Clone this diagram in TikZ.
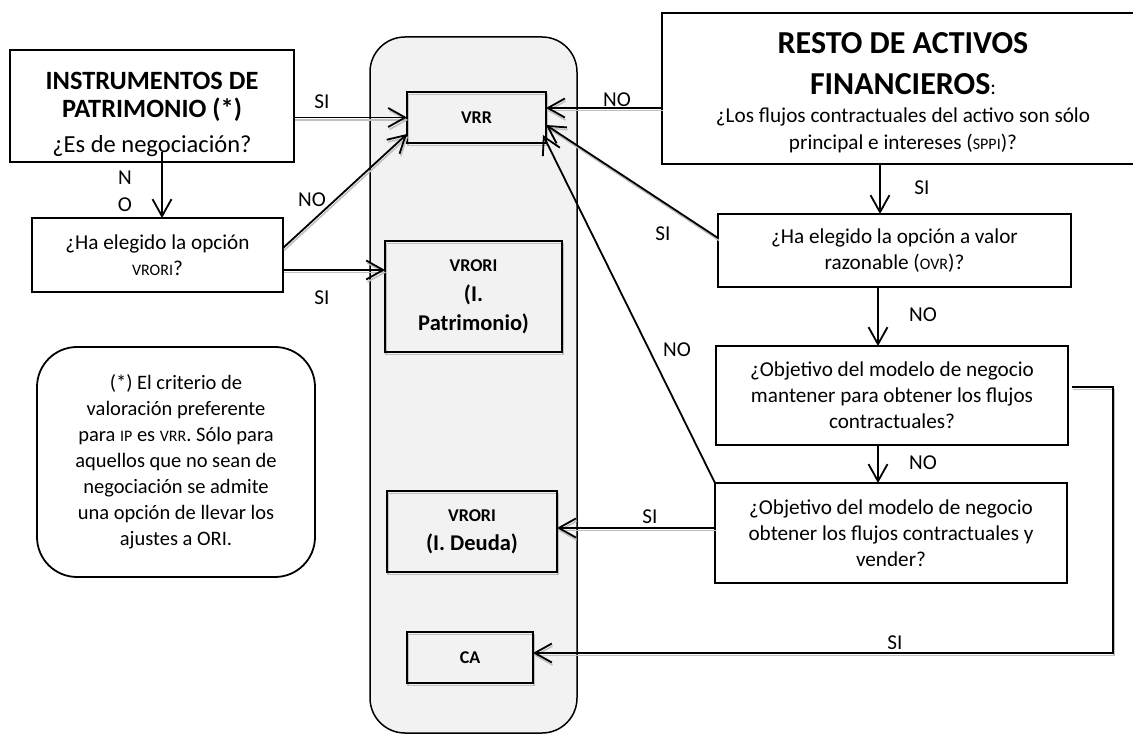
\documentclass[tikz,border=0pt]{standalone}
\usepackage{fontspec}
\setmainfont{Carlito}
\usetikzlibrary{arrows.meta,calc}
\newcommand\smc[1]{{\fontsize{16}{16}\selectfont #1}}
\newcommand\smb[1]{{\fontsize{18}{18}\selectfont #1}}
\newcommand\Fh{\fontsize{26.4}{30}\selectfont\bfseries}
\newcommand\Fq{\fontsize{24.5}{28}\selectfont}
\newcommand\Fr{\fontsize{32}{38}\selectfont\bfseries}
\begin{document}
\begin{tikzpicture}[x=1pt,y=-1pt,
  box/.style={draw, line width=1.8pt, inner sep=0pt, outer sep=0pt, align=center, font=\fontsize{21.2}{26}\selectfont},
  res/.style={box, line width=1.6pt, font=\fontsize{22.5}{29}\selectfont\bfseries},
  arr/.style={line width=1.8pt, -{Straight Barb[length=17pt,width=19pt]}},
  lbl/.style={font=\fontsize{21.2}{24}\selectfont, inner sep=0pt},
  shd/.style={preaction={draw=gray!50, line width=1.5pt, transform canvas={shift={(1pt,-2.5pt)}}}}
]
\useasboundingbox (0,0) rectangle (1133,735);
% column
\node[draw, fill=gray!10, line width=1.5pt, rounded corners=35pt, minimum width=207pt, minimum height=696pt, inner sep=0pt] (col) at (473.5,385) {};
% left boxes
\node[box, minimum width=284pt, minimum height=112pt] (ip) at (152,106) {};
\node[align=center, inner sep=0pt] (iptxt) at (152,114.5)
  {{\Fh INSTRUMENTOS DE}\\[8pt] {\Fh PATRIMONIO (*)}\\[13pt] {\Fq ¿Es de negociación?}};
\node[box, minimum width=251pt, minimum height=74pt] (ho) at (157.5,255)
  {¿Ha elegido la opción\\ \smc{VRORI}?};
% right boxes
\node[box, minimum width=482pt, minimum height=151pt] (resto) at (903,88.5)
  {{\Fr\rule{0pt}{29pt}RESTO DE ACTIVOS}\\[15pt] {\Fr FINANCIEROS}:\\[2pt] ¿Los flujos contractuales del activo son sólo\\[1pt] principal e intereses (\smc{SPPI})?};
\node[box, minimum width=353pt, minimum height=73pt] (ovr) at (894.5,250.5)
  {¿Ha elegido la opción a valor\\ razonable (\smc{OVR})?};
\node[box, minimum width=352pt, minimum height=99pt] (mant) at (892,395.5)
  {¿Objetivo del modelo de negocio\\ mantener para obtener los flujos\\ contractuales?};
\node[box, minimum width=352pt, minimum height=100pt] (vend) at (891,533)
  {¿Objetivo del modelo de negocio\\ obtener los flujos contractuales y\\ vender?};
% result boxes
\node[res, shd, minimum width=139pt, minimum height=51pt] (vrr) at (476.5,117.5) {\smb{VRR}};
\node[res, shd, minimum width=177pt, minimum height=111pt] (vrorip) at (473.5,296.5) {\smb{VRORI}\\[1pt] (I.\\ Patrimonio)};
\node[res, shd, minimum width=170pt, minimum height=81pt] (vrorid) at (472,531.5) {\smb{VRORI}\\ (I. Deuda)};
\node[res, shd, minimum width=126pt, minimum height=51pt] (ca) at (470,657.5) {\smb{CA}};
% note
\node[draw, line width=1.8pt, rounded corners=40pt, minimum width=278pt, minimum height=230pt, inner sep=0pt, align=center, font=\fontsize{20.5}{26}\selectfont] (note) at (176,462)
  {(*) El criterio de\\ valoración preferente\\ para \smc{IP} es \smc{VRR}. Sólo para\\ aquellos que no sean de\\ negociación se admite\\ una opción de llevar los\\ ajustes a ORI.};
% connectors
\draw[arr, shd] (ip.east |- vrr.west) -- (vrr.west);
\node[lbl] (l1) at (322,102) {SI};
\draw[arr] ([xshift=10pt,yshift=10pt]ip.south) -- ([xshift=4.5pt]ho.north);
\node[lbl] (l2) at (125,178) {N};
\node[lbl] (l3) at (125,205) {O};
\draw[arr, shd] ([yshift=7pt]ho.east) -- ([yshift=9pt]vrr.south west);
\node[lbl] (l4) at (312,200) {NO};
\draw[arr, shd] (ho.east |- 0,270) -- (vrorip.west |- 0,270);
\node[lbl] (l5) at (322,298) {SI};
\draw[arr, shd] (resto.west |- 0,108) -- (vrr.east |- 0,108);
\node[lbl] (l6) at (617,100) {NO};
\draw[arr, shd] (ovr.west |- 0,238) -- (vrr.east |- 0,125);
\node[lbl] (l7) at (663,234) {SI};
\draw[arr] (vend.north west) -- ([xshift=-3pt,yshift=8pt]vrr.south east);
\node[lbl] (l8) at (677,350) {NO};
\draw[arr] (880,0 |- resto.south) -- (880,0 |- ovr.north);
\node[lbl] (l9) at (922,188) {SI};
\draw[arr] (878,0 |- ovr.south) -- (878,0 |- mant.north);
\node[lbl] (l10) at (923,315) {NO};
\draw[arr] (878,0 |- mant.south) -- (878,0 |- vend.north);
\node[lbl] (l11) at (923,463) {NO};
\draw[arr, shd] (vend.west |- 0,528) -- (vrorid.east |- 0,528);
\node[lbl] (l12) at (650,517) {SI};
\draw[arr, shd] ([xshift=4pt]mant.east |- 0,387) -| (1113,653) -- (ca.east |- 0,653);
\node[lbl] (l13) at (895,643) {SI};
\end{tikzpicture}
\end{document}
